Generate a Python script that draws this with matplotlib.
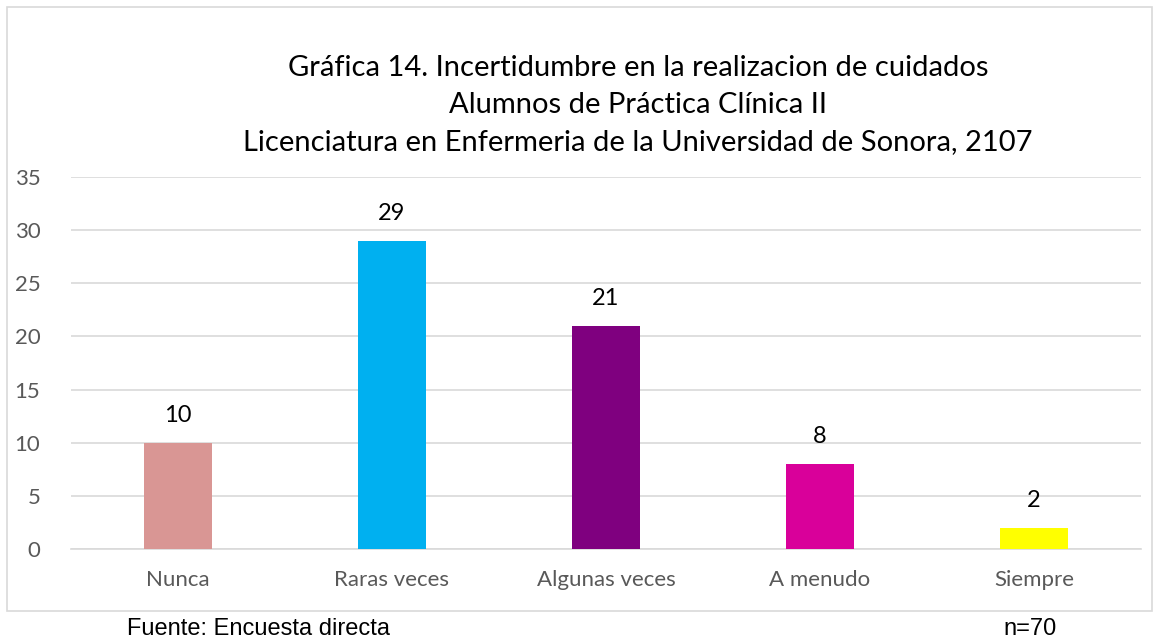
import numpy as np
import matplotlib.pyplot as plt
from matplotlib.patches import Rectangle

# datos
categorias = ['Nunca', 'Raras veces', 'Algunas veces', 'A menudo', 'Siempre']
valores = [10, 29, 21, 8, 2]
colores = ['#D99694', '#00B0F0', '#7F007F', '#D9009A', '#FFFF00']
titulo = ('Gráfica 14. Incertidumbre en la realizacion de cuidados\n'
          'Alumnos de Práctica Clínica II\n'
          'Licenciatura en Enfermeria de la Universidad de Sonora, 2107')
y_ticks = [0, 5, 10, 15, 20, 25, 30, 35]

W, H = 1162, 640
fig = plt.figure(figsize=(W / 100, H / 100), dpi=100)
fig.patch.set_facecolor('white')

# marco del grafico
fig.patches.append(Rectangle((7 / W, 1 - 611 / H), 1145 / W, 604 / H,
                             transform=fig.transFigure, fill=False,
                             edgecolor='#D9D9D9', linewidth=1.2))

ax = fig.add_axes([71 / W, 1 - 549 / H, 1070 / W, 372 / H])
x = np.arange(len(categorias))
ax.bar(x, valores, width=0.318, color=colores, zorder=3)

for xi, v in zip(x, valores):
    ax.annotate(str(v), (xi, v), xytext=(0, 12), textcoords='offset points',
                ha='center', va='bottom', fontsize=17, family='Lato', color='black')

ax.set_xlim(-0.5, len(categorias) - 0.5)
ax.set_ylim(0, 35)
ax.set_yticks(y_ticks)
ax.set_xticks(x)
ax.set_xticklabels(categorias)
ax.grid(axis='y', color='#D9D9D9', linewidth=1.2, zorder=0)
for s in ['top', 'right', 'left']:
    ax.spines[s].set_visible(False)
ax.spines['bottom'].set_color('#D9D9D9')
ax.spines['bottom'].set_linewidth(1.2)
ax.tick_params(axis='both', length=0, labelcolor='#595959', labelsize=16)
ax.tick_params(axis='y', pad=22)
ax.tick_params(axis='x', pad=15)
for lab in ax.get_xticklabels() + ax.get_yticklabels():
    lab.set_family('Lato')

fig.text(638 / W, 1 - 105 / H, titulo, ha='center', va='center',
         fontsize=21, family='Lato', linespacing=1.52)

fig.text(127 / W, 1 - 629 / H, 'Fuente: Encuesta directa', ha='left', va='center',
         fontsize=17, family='Liberation Sans')
fig.text(1003 / W, 1 - 629 / H, 'n=70', ha='left', va='center',
         fontsize=17, family='Liberation Sans')

fig.savefig('out.png', dpi=100)
